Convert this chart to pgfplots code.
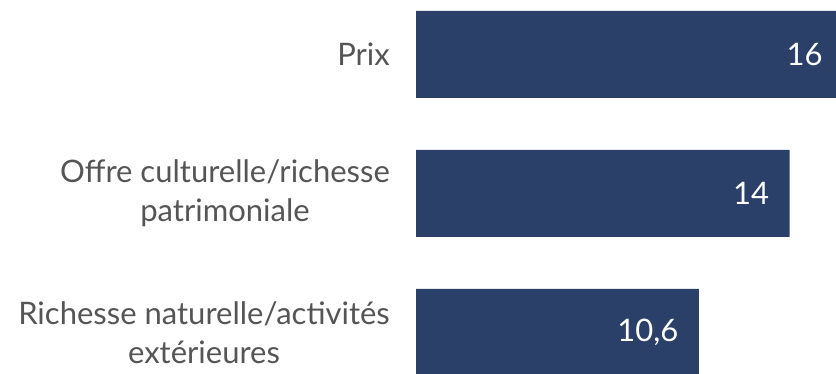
\documentclass[border=0pt]{standalone}
\usepackage{pgfplots}
\pgfplotsset{compat=1.18}
\usepackage{fontspec}
\setmainfont{Lato}
\definecolor{navy}{HTML}{2A4068}
\definecolor{lbl}{HTML}{555555}
\begin{document}
\begin{tikzpicture}
\useasboundingbox (0,0) rectangle (836bp,374bp);
\begin{axis}[
  at={(416bp,0bp)}, anchor=south west,
  scale only axis, width=427bp, height=374bp,
  xbar, bar width=0.626,
  xmin=0, xmax=16,
  ymin=-0.299, ymax=2.392,
  axis line style={draw=none},
  xtick=\empty,
  ytick={0,1,2},
  yticklabels={{Richesse naturelle/activités\\extérieures},{Offre culturelle/richesse\\patrimoniale},{Prix}},
  major tick length=0pt,
  yticklabel style={align=center, font=\fontsize{31bp}{39bp}\selectfont, text=lbl, inner sep=0pt, anchor=east, xshift=-26bp},
  nodes near coords={\pgfmathprintnumber[use comma,fixed,precision=1]{\pgfplotspointmeta}},
  every node near coord/.append style={anchor=east, xshift=-17bp, text=white, font=\fontsize{31bp}{36bp}\selectfont},
  /pgf/number format/assume math mode=true,
]
\addplot[fill=navy, draw=none] coordinates {(10.6,0) (14,1) (16,2)};
\end{axis}
\end{tikzpicture}
\end{document}
